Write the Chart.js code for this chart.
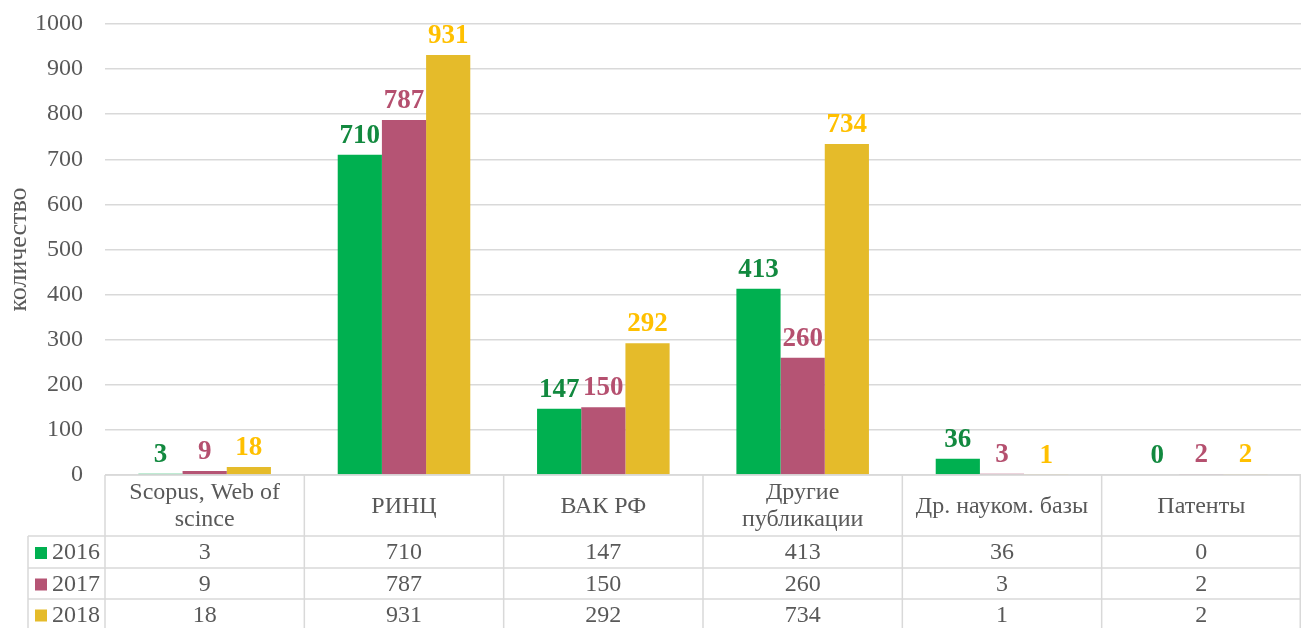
<!DOCTYPE html>
<html>
<head>
<meta charset="utf-8">
<script src="https://cdn.jsdelivr.net/npm/chart.js@4"></script>
<style>
  body { margin: 0; background: #fff; }
  #wrap { width: 1301px; height: 628px; }
</style>
</head>
<body>
<div id="wrap"><canvas id="myChart" width="1301" height="628"></canvas></div>
<script>
let categories = [
  ['Scopus, Web of', 'scince'],
  ['РИНЦ'],
  ['ВАК РФ'],
  ['Другие', 'публикации'],
  ['Др. науком. базы'],
  ['Патенты']
];
let years = ['2016', '2017', '2018'];
let y2016 = [3, 710, 147, 413, 36, 0];
let y2017 = [9, 787, 150, 260, 3, 2];
let y2018 = [18, 931, 292, 734, 1, 2];
let yTicks = [0, 100, 200, 300, 400, 500, 600, 700, 800, 900, 1000];

let barColors = ['#00b050', '#b55474', '#e5bb2a'];
let labelColors = ['#12893f', '#b5506f', '#ffc000'];
let serif = '"Liberation Serif", "Times New Roman", serif';
let grey = '#595959';
let lineGrey = '#d9d9d9';

// подписи над столбцами + таблица данных под осью
let labelsAndTable = {
  id: 'labelsAndTable',
  afterDatasetsDraw(chart) {
    let c = chart.ctx;
    c.save();
    c.font = 'bold 27px ' + serif;
    c.textAlign = 'center';
    c.textBaseline = 'alphabetic';
    chart.data.datasets.forEach((ds, di) => {
      let meta = chart.getDatasetMeta(di);
      meta.data.forEach((bar, i) => {
        c.fillStyle = labelColors[di];
        c.fillText(String(ds.data[i]), bar.x, bar.y - 12);
      });
    });
    c.restore();
  },
  afterDraw(chart) {
    let c = chart.ctx;
    let x = chart.scales.x;
    let top = chart.chartArea.bottom;
    let left = chart.chartArea.left;
    let right = chart.chartArea.right;
    let step = (right - left) / categories.length;
    let headH = 61;
    let rowH = [32, 31, 31];
    let labelLeft = 28;

    c.save();
    c.strokeStyle = lineGrey;
    c.lineWidth = 1.5;
    let yy = top + headH;
    c.beginPath();
    c.moveTo(left, top); c.lineTo(right, top);
    let rowTops = [];
    for (let r = 0; r < rowH.length; r++) {
      rowTops.push(yy);
      c.moveTo(labelLeft, yy); c.lineTo(right, yy);
      yy += rowH[r];
    }
    c.moveTo(labelLeft, yy); c.lineTo(right, yy);
    for (let i = 0; i <= categories.length; i++) {
      let xx = left + i * step;
      if (i === categories.length) xx = right - 0.75;
      c.moveTo(xx, top); c.lineTo(xx, yy);
    }
    c.moveTo(labelLeft, top + headH); c.lineTo(labelLeft, yy);
    c.stroke();

    c.fillStyle = grey;
    c.font = '24px ' + serif;
    c.textAlign = 'center';
    c.textBaseline = 'middle';
    categories.forEach((lines, i) => {
      let cx = x.getPixelForValue(i);
      let cy = top + headH / 2 + 1;
      let lh = 27;
      lines.forEach((t, k) => {
        c.fillText(t, cx, cy + (k - (lines.length - 1) / 2) * lh);
      });
    });

    let series = [y2016, y2017, y2018];
    series.forEach((vals, r) => {
      let cy = rowTops[r] + rowH[r] / 2 + 1;
      c.fillStyle = barColors[r];
      c.fillRect(35, cy - 6, 12, 12);
      c.fillStyle = grey;
      c.textAlign = 'left';
      c.fillText(years[r], 52, cy);
      c.textAlign = 'center';
      vals.forEach((v, i) => {
        c.fillText(String(v), x.getPixelForValue(i), cy);
      });
    });
    c.restore();
  }
};

let ctx = document.getElementById('myChart').getContext('2d');
let myChart = new Chart(ctx, {
  type: 'bar',
  data: {
    labels: categories.map(l => l.join(' ')),
    datasets: [
      { label: years[0], data: y2016, backgroundColor: barColors[0] },
      { label: years[1], data: y2017, backgroundColor: barColors[1] },
      { label: years[2], data: y2018, backgroundColor: barColors[2] }
    ]
  },
  options: {
    responsive: false,
    animation: false,
    layout: { padding: { top: 24, bottom: 153, right: 0, left: 0 } },
    datasets: { bar: { categoryPercentage: 0.665, barPercentage: 1 } },
    plugins: {
      legend: { display: false },
      tooltip: { enabled: false }
    },
    scales: {
      x: {
        display: false,
        grid: { display: false }
      },
      y: {
        min: 0,
        max: 1000,
        afterBuildTicks: s => { s.ticks = yTicks.map(v => ({ value: v })); },
        afterFit: s => {
          s.width = 105;
          s.paddingTop = 0;
          s.paddingBottom = 0;
        },
        border: { display: false },
        grid: { color: lineGrey, lineWidth: 1.5, drawTicks: false },
        ticks: {
          padding: 22,
          color: grey,
          font: { family: serif, size: 24 },
          callback: v => String(v)
        },
        title: {
          display: true,
          text: 'количество',
          color: grey,
          padding: { top: 4, bottom: 0 },
          font: { family: serif, size: 26 }
        }
      }
    }
  },
  plugins: [labelsAndTable]
});
</script>
</body>
</html>
